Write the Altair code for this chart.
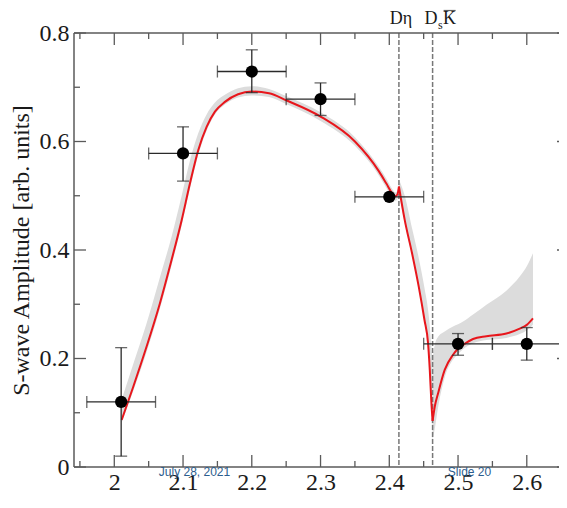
import altair as alt
import pandas as pd

# ---------------- data ----------------
curve_a_x = [2.0108, 2.0276, 2.0470, 2.0664, 2.0834, 2.0980, 2.1101, 2.1221, 2.1343, 2.1464,
             2.1609, 2.1800, 2.2000, 2.2250, 2.2500, 2.3000, 2.3500, 2.3850, 2.3960, 2.4040,
             2.4090, 2.4120, 2.4140]
curve_a_y = [0.087, 0.148, 0.222, 0.302, 0.382, 0.455, 0.523, 0.584, 0.627, 0.655,
             0.673, 0.687, 0.692, 0.689, 0.676, 0.646, 0.600, 0.545, 0.522, 0.505,
             0.499, 0.503, 0.517]
curve_b_x = [2.414, 2.4225, 2.4331, 2.4429, 2.4512, 2.4564, 2.4589, 2.4613, 2.4630]
curve_b_y = [0.517, 0.455, 0.394, 0.332, 0.271, 0.228, 0.179, 0.117, 0.085]
curve_c_x = [2.4630, 2.4661, 2.4710, 2.4806, 2.4927, 2.5000, 2.5073, 2.5218, 2.5413,
             2.5703, 2.5897, 2.6000, 2.6090]
curve_c_y = [0.085, 0.111, 0.136, 0.179, 0.207, 0.218, 0.225, 0.236, 0.241,
             0.246, 0.255, 0.262, 0.274]

band_a_lo = [0.082, 0.140, 0.212, 0.292, 0.372, 0.445, 0.513, 0.575, 0.620, 0.650,
             0.668, 0.681, 0.685, 0.682, 0.669, 0.638, 0.592, 0.537, 0.514, 0.497,
             0.491, 0.495, 0.505]
band_a_hi = [0.125, 0.190, 0.265, 0.350, 0.425, 0.500, 0.565, 0.615, 0.650, 0.672,
             0.686, 0.698, 0.702, 0.697, 0.684, 0.654, 0.608, 0.553, 0.531, 0.513,
             0.506, 0.510, 0.525]
band_b_lo = [0.505, 0.450, 0.390, 0.330, 0.268, 0.222, 0.170, 0.100, 0.050]
band_b_hi = [0.530, 0.500, 0.440, 0.385, 0.330, 0.290, 0.260, 0.220, 0.200]
band_c_lo = [0.050, 0.070, 0.110, 0.165, 0.198, 0.208, 0.217, 0.228, 0.234,
             0.238, 0.245, 0.252, 0.262]
band_c_hi = [0.200, 0.225, 0.240, 0.250, 0.259, 0.263, 0.268, 0.281, 0.299,
             0.325, 0.351, 0.370, 0.394]

pt_x = [2.01, 2.10, 2.20, 2.30, 2.40, 2.50, 2.60]
pt_y = [0.120, 0.578, 0.729, 0.678, 0.498, 0.227, 0.227]
pt_xlo = [1.96, 2.05, 2.15, 2.25, 2.35, 2.45, 2.55]
pt_xhi = [2.06, 2.15, 2.25, 2.35, 2.45, 2.55, 2.65]
pt_ylo = [0.020, 0.527, 0.690, 0.648, 0.498, 0.206, 0.197]
pt_yhi = [0.220, 0.627, 0.769, 0.708, 0.498, 0.246, 0.257]

thr_x = [2.414, 2.463]

x_major = [2.0, 2.1, 2.2, 2.3, 2.4, 2.5, 2.6]
x_minor = [1.95, 2.05, 2.15, 2.25, 2.35, 2.45, 2.55, 2.65]
y_major = [0.0, 0.2, 0.4, 0.6, 0.8]
y_minor = [0.1, 0.3, 0.5, 0.7]

footer_text = ["July 28, 2021", "Slide 20"]

# ---------------- tables ----------------
seg = ["a"] * len(curve_a_x) + ["b"] * len(curve_b_x) + ["c"] * len(curve_c_x)
curve = pd.DataFrame({"x": curve_a_x + curve_b_x + curve_c_x,
                      "y": curve_a_y + curve_b_y + curve_c_y, "seg": seg})
band = pd.DataFrame({"x": curve_a_x + curve_b_x + curve_c_x,
                     "lo": band_a_lo + band_b_lo + band_c_lo,
                     "hi": band_a_hi + band_b_hi + band_c_hi, "seg": seg})
pts = pd.DataFrame({"x": pt_x, "y": pt_y, "xlo": pt_xlo, "xhi": pt_xhi,
                    "ylo": pt_ylo, "yhi": pt_yhi})
pts_v = pts[pts["yhi"] > pts["ylo"]]

# plot area: the frame of the original runs past the right edge of the window
W, H = 485, 434
R = 495          # where the (off-page) right frame would be
AX = "#5a5a5a"
EB = "#2a2a2a"
SERIF = "Liberation Serif"

xs = alt.Scale(domain=[1.9414, 1.9414 + 0.72 * W / R], nice=False, zero=False)
ys = alt.Scale(domain=[0, 0.8], nice=False, zero=False)


def X(f):
    return alt.X(f, scale=xs)


def Y(f):
    return alt.Y(f, scale=ys)


axis_layer = alt.Chart(pts).mark_point(opacity=0).encode(
    x=alt.X("x:Q", scale=xs, title="M\u00a0\u00a0\u00a0\u00a0\u00a0[GeV]",
            axis=alt.Axis(values=x_major, format="~g", ticks=False, domain=False, grid=False,
                          labelFont=SERIF, labelFontSize=24, labelColor="#1a1a1a",
                          labelPadding=3, titleFont=SERIF, titleFontSize=24,
                          titleFontWeight="normal", titleColor="#1a1a1a", titlePadding=6)),
    y=alt.Y("y:Q", scale=ys, title="S-wave Amplitude [arb. units]",
            axis=alt.Axis(values=y_major, format="~g", ticks=False, domain=False, grid=False,
                          labelFont=SERIF, labelFontSize=24, labelColor="#1a1a1a",
                          labelPadding=5, titleFont=SERIF, titleFontSize=24,
                          titleFontWeight="normal", titleColor="#1a1a1a", titlePadding=6)),
)

band_layer = alt.Chart(band).mark_area(color="#dcdcdc", interpolate="monotone").encode(
    x=X("x:Q"), y=Y("lo:Q"), y2="hi:Q", detail="seg:N")

thr_layer = alt.Chart(pd.DataFrame({"x": thr_x})).mark_rule(
    color="#777777", strokeDash=[5, 2], strokeWidth=1.5).encode(x=X("x:Q"))

line_layer = alt.Chart(curve).mark_line(color="#e8161c", strokeWidth=2,
                                        interpolate="monotone").encode(
    x=X("x:Q"), y=Y("y:Q"), detail="seg:N")

xerr = alt.Chart(pts).mark_rule(color=EB, strokeWidth=1.3).encode(
    x=X("xlo:Q"), x2="xhi:Q", y=Y("y:Q"))
yerr = alt.Chart(pts_v).mark_rule(color=EB, strokeWidth=1.3).encode(
    x=X("x:Q"), y=Y("ylo:Q"), y2="yhi:Q")
cap_xlo = alt.Chart(pts).mark_tick(color=EB, orient="vertical", size=12, thickness=1.3).encode(
    x=X("xlo:Q"), y=Y("y:Q"))
cap_xhi = alt.Chart(pts).mark_tick(color=EB, orient="vertical", size=12, thickness=1.3).encode(
    x=X("xhi:Q"), y=Y("y:Q"))
cap_ylo = alt.Chart(pts_v).mark_tick(color=EB, orient="horizontal", size=12, thickness=1.3).encode(
    x=X("x:Q"), y=Y("ylo:Q"))
cap_yhi = alt.Chart(pts_v).mark_tick(color=EB, orient="horizontal", size=12, thickness=1.3).encode(
    x=X("x:Q"), y=Y("yhi:Q"))

pt_layer = alt.Chart(pts).mark_circle(size=150, color="black", opacity=1).encode(
    x=X("x:Q"), y=Y("y:Q"))


def xticks(vals, L):
    base = alt.Chart(pd.DataFrame({"x": vals}))
    b = base.mark_rule(color=AX, strokeWidth=1.3).encode(
        x=X("x:Q"), y=alt.value(H), y2=alt.value(H - L))
    t = base.mark_rule(color=AX, strokeWidth=1.3).encode(
        x=X("x:Q"), y=alt.value(0), y2=alt.value(L))
    return [b, t]


def yticks(vals, L):
    base = alt.Chart(pd.DataFrame({"y": vals}))
    l = base.mark_rule(color=AX, strokeWidth=1.3).encode(
        y=Y("y:Q"), x=alt.value(0), x2=alt.value(L))
    r = base.mark_rule(color=AX, strokeWidth=1.3).encode(
        y=Y("y:Q"), x=alt.value(R), x2=alt.value(R - L))
    return [l, r]


frame_base = alt.Chart(pd.DataFrame({"k": [0]}))
frame = [
    frame_base.mark_rule(color=AX, strokeWidth=1.5).encode(
        x=alt.value(0), x2=alt.value(R), y=alt.value(H)),
    frame_base.mark_rule(color=AX, strokeWidth=1.5).encode(
        x=alt.value(0), x2=alt.value(R), y=alt.value(0)),
    frame_base.mark_rule(color=AX, strokeWidth=1.5).encode(
        x=alt.value(0), y=alt.value(0), y2=alt.value(H)),
]

LBL_Y = -9   # baseline of the threshold labels, above the frame
thr_text = alt.Chart(pd.DataFrame({"x": [thr_x[0]], "t": ["Dη"]})).mark_text(
    font=SERIF, fontSize=18, baseline="alphabetic", align="center", dx=2, color="#1a1a1a").encode(
    x=X("x:Q"), y=alt.value(LBL_Y), text="t:N")
ds_D = alt.Chart(pd.DataFrame({"x": [thr_x[1]], "t": ["D"]})).mark_text(
    font=SERIF, fontSize=18, baseline="alphabetic", align="left", dx=-8, color="#1a1a1a").encode(
    x=X("x:Q"), y=alt.value(LBL_Y), text="t:N")
ds_s = alt.Chart(pd.DataFrame({"x": [thr_x[1]], "t": ["s"]})).mark_text(
    font=SERIF, fontSize=12, baseline="alphabetic", align="left", dx=5.5, color="#1a1a1a").encode(
    x=X("x:Q"), y=alt.value(LBL_Y + 5), text="t:N")
ds_K = alt.Chart(pd.DataFrame({"x": [thr_x[1]], "t": ["K"]})).mark_text(
    font=SERIF, fontSize=18, baseline="alphabetic", align="left", dx=10.5, color="#1a1a1a").encode(
    x=X("x:Q"), y=alt.value(LBL_Y), text="t:N")
ds_bar = alt.Chart(pd.DataFrame({"x": [thr_x[1]]})).mark_tick(
    color="#1a1a1a", orient="horizontal", size=12, thickness=1.2, xOffset=17).encode(
    x=X("x:Q"), y=alt.value(LBL_Y - 13.5))

foot1 = alt.Chart(pd.DataFrame({"t": [footer_text[0]]})).mark_text(
    font="Liberation Sans", fontSize=12, color="#2b5d8e", baseline="middle").encode(
    x=alt.value(120.5), y=alt.value(439), text="t:N")
foot2 = alt.Chart(pd.DataFrame({"t": [footer_text[1]]})).mark_text(
    font="Liberation Sans", fontSize=12, color="#2b5d8e", baseline="middle").encode(
    x=alt.value(395.5), y=alt.value(439), text="t:N")

layers = [axis_layer, band_layer, thr_layer, line_layer, xerr, yerr, cap_xlo, cap_xhi,
          cap_ylo, cap_yhi, pt_layer] + xticks(x_major, 12) + xticks(x_minor, 6) \
    + yticks(y_major, 12) + yticks(y_minor, 6) + frame \
    + [thr_text, ds_D, ds_s, ds_K, ds_bar, foot1, foot2]

chart = alt.layer(*layers).properties(
    width=W, height=H,
    background="white",
    autosize=alt.AutoSizeParams(type="none"),
    padding={"left": 66, "top": 25, "right": 0, "bottom": 28},
).configure_view(stroke=None)

chart.save("out.html", embed_options={"renderer": "svg", "actions": False})
